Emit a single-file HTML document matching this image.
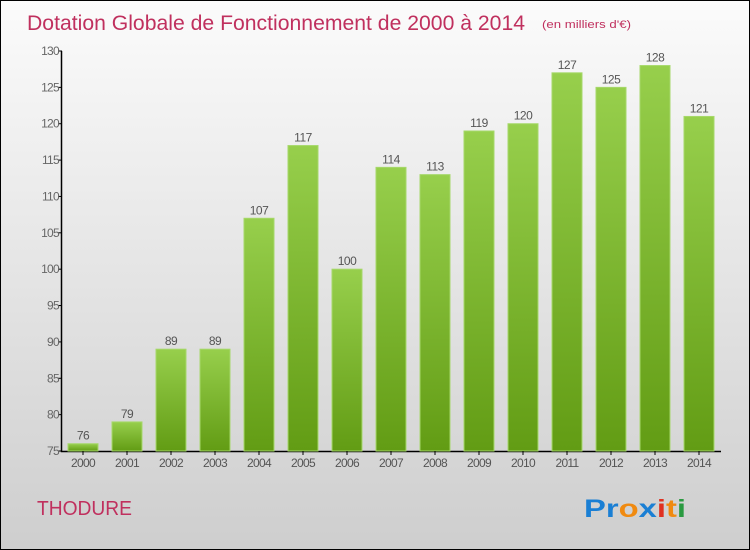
<!DOCTYPE html>
<html><head><meta charset="utf-8"><style>
body{margin:0}
#c{position:relative;width:750px;height:550px;box-sizing:border-box;border:1px solid #000;background:linear-gradient(#fbfbfb,#cecece);font-family:"Liberation Sans",sans-serif;overflow:hidden}
svg{position:absolute;left:0;top:0}
</style></head><body>
<div id="c">
<svg width="750" height="550" id="s">
<defs><linearGradient id="g" x1="0" y1="0" x2="0" y2="1"><stop offset="0" stop-color="#97cf4c"/><stop offset="1" stop-color="#629c14"/></linearGradient></defs>
<text x="26" y="29" font-size="21" fill="#c0305e" textLength="498" lengthAdjust="spacingAndGlyphs">Dotation Globale de Fonctionnement de 2000 à 2014</text>
<text x="541" y="27" font-size="11" fill="#c0305e" textLength="89" lengthAdjust="spacingAndGlyphs">(en milliers d'€)</text>
<text x="36" y="514" font-size="20" fill="#c0305e" textLength="95" lengthAdjust="spacingAndGlyphs">THODURE</text>
<text x="583" y="516" font-size="25" font-weight="bold" textLength="102" lengthAdjust="spacingAndGlyphs"><tspan fill="#1a7fd4">Pr</tspan><tspan fill="#f08a10">o</tspan><tspan fill="#1a7fd4">x</tspan><tspan fill="#e03020">i</tspan><tspan fill="#f08a10">t</tspan><tspan fill="#2a9a40">i</tspan></text>
</svg>
</div>
<script>
const years=["2000","2001","2002","2003","2004","2005","2006","2007","2008","2009","2010","2011","2012","2013","2014"];
const values=[76,79,89,89,107,117,100,114,113,119,120,127,125,128,121];
const yTicks=[75,80,85,90,95,100,105,110,115,120,125,130];
const NS="http://www.w3.org/2000/svg",s=document.getElementById('s');
const y=v=>450-(v-75)*400/55, x=i=>82+i*44;
function mk(t,a){const e=document.createElementNS(NS,t);for(const k in a)e.setAttribute(k,a[k]);s.appendChild(e);return e;}
let ax=mk('path',{d:'M60.5 50V450.5H720',stroke:'#000','stroke-width':1.5,fill:'none'});


yTicks.forEach(v=>{
 const t=mk('line',{x1:57,x2:61,y1:y(v),y2:y(v),stroke:'#000'});
 
 
 const l=mk('text',{x:58,y:y(v)+4,'font-size':12,'text-anchor':'end',fill:'#666','letter-spacing':'-0.7'});
 l.textContent=v;
 
 
});
years.forEach((yr,i)=>{
 const b=mk('rect',{x:x(i)-15,y:y(values[i]),width:30,height:450-y(values[i]),fill:'url(#g)',stroke:'#a6d86a','stroke-width':1});
 
 
 const v=mk('text',{x:x(i),y:y(values[i])-4,'font-size':12,'text-anchor':'middle',fill:'#555','letter-spacing':'-0.5'});
 v.textContent=values[i];
 
 
 const tk=mk('line',{x1:x(i),x2:x(i),y1:450,y2:454,stroke:'#000'});
 
 
 const l=mk('text',{x:x(i),y:466,'font-size':12,'text-anchor':'middle',fill:'#555','letter-spacing':'-0.7'});
 l.textContent=yr;
 
 
});
</script>
</body></html>
